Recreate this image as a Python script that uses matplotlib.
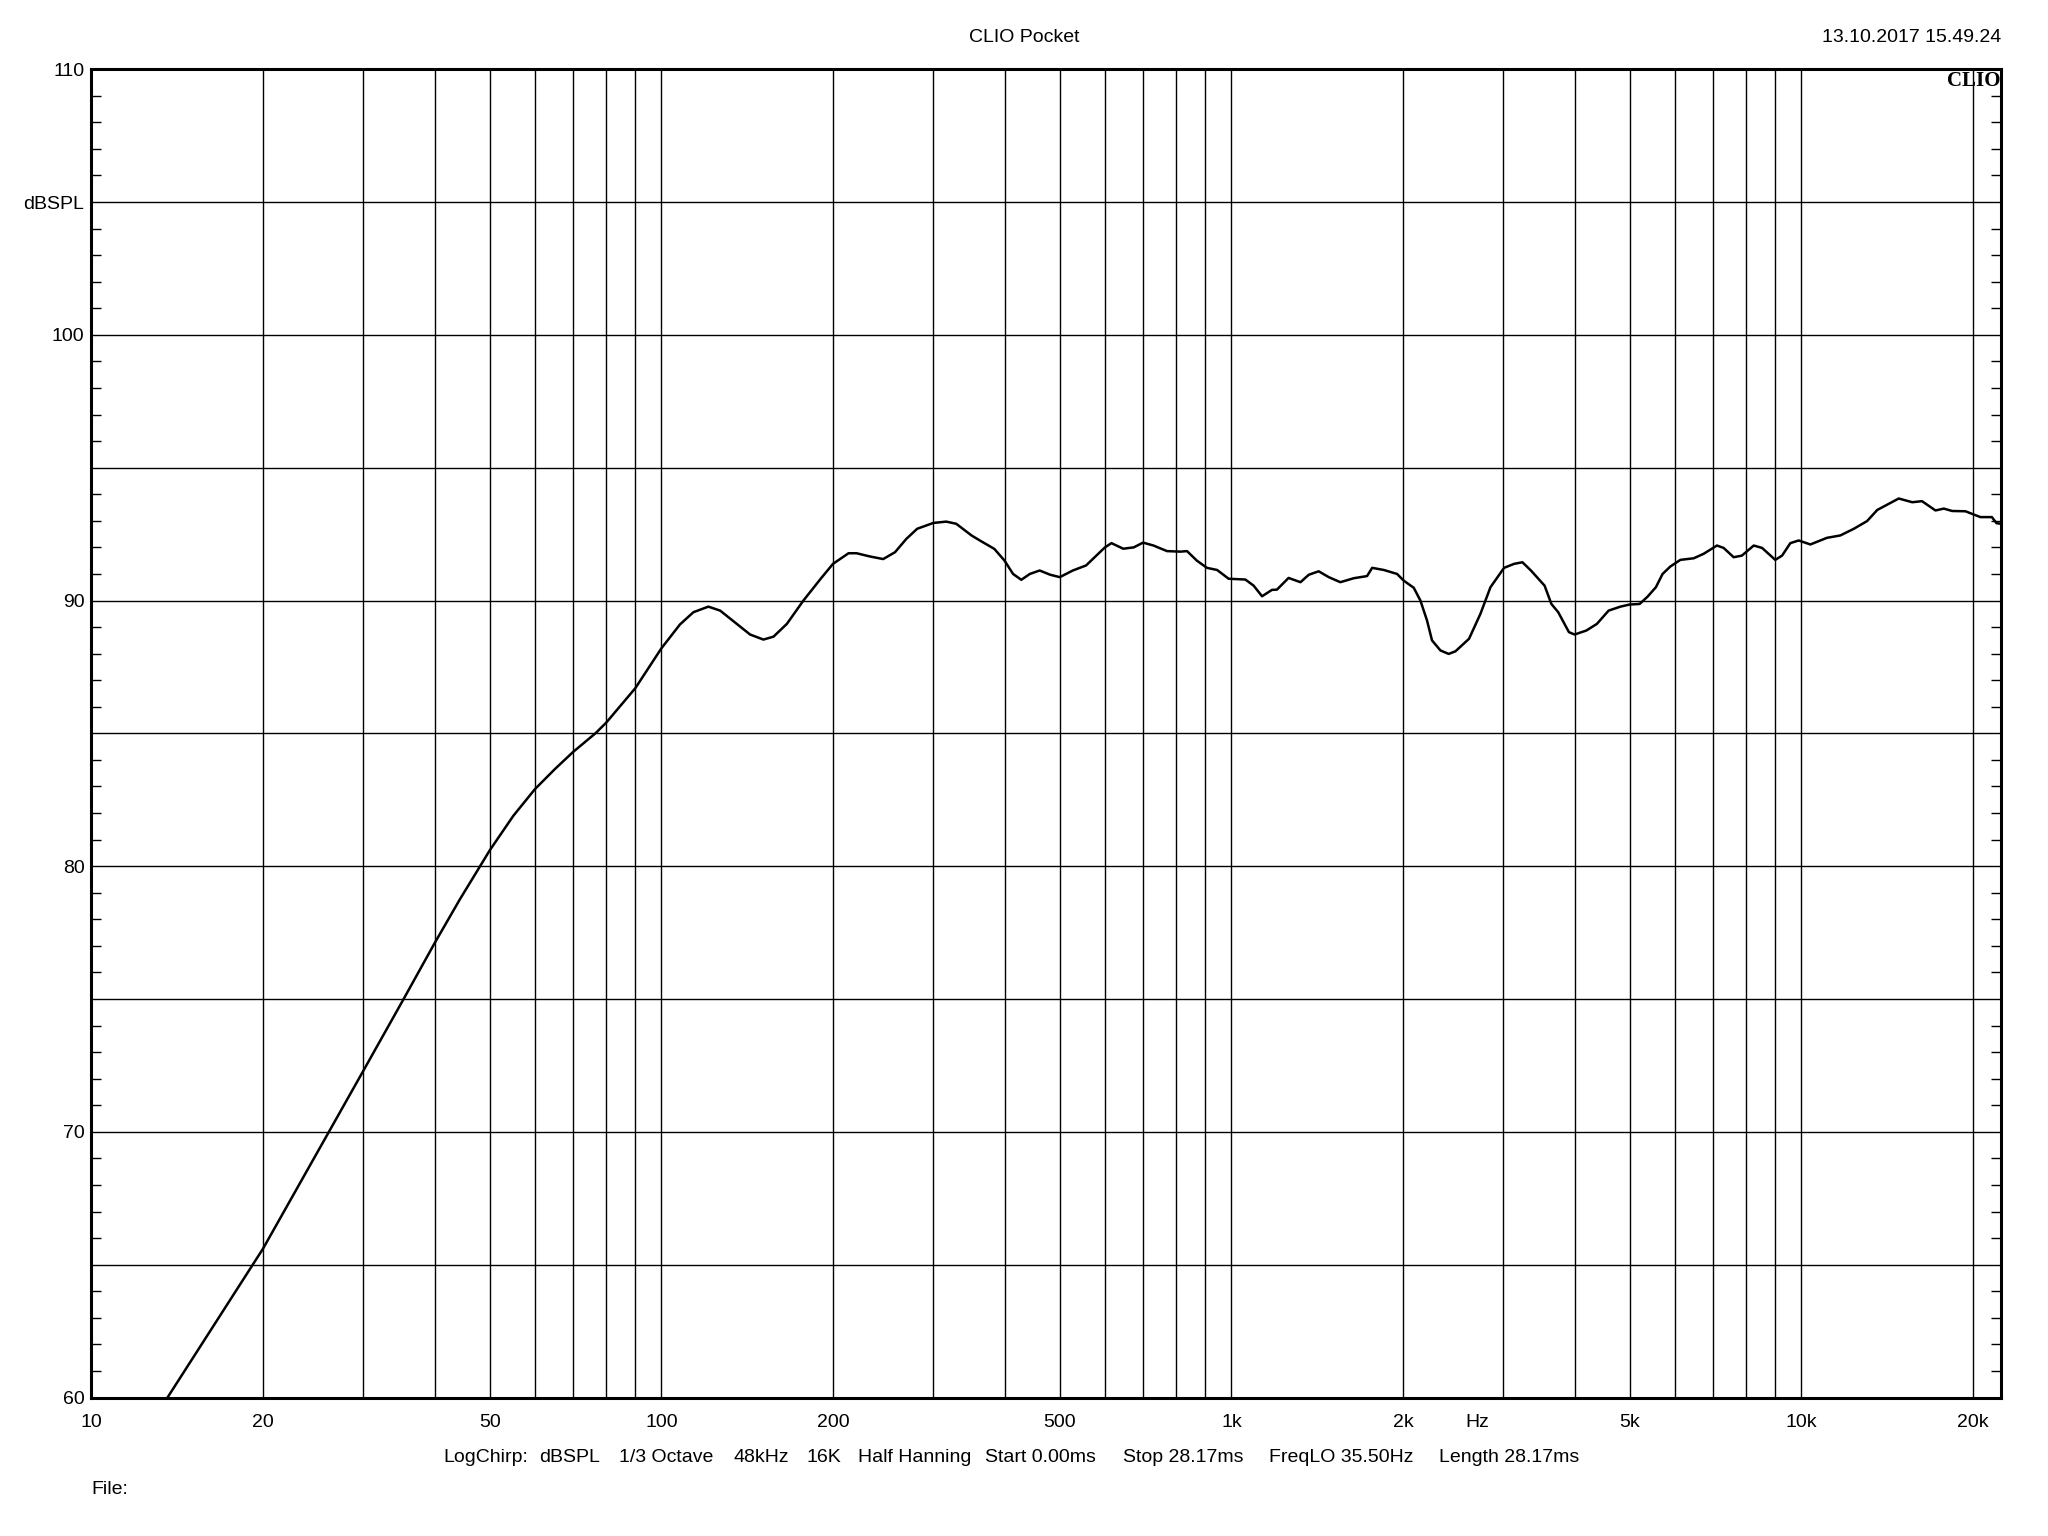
import matplotlib
matplotlib.use('Agg')
import matplotlib.pyplot as plt
from matplotlib.ticker import FixedLocator, MultipleLocator, NullLocator

plt.rcParams['font.family'] = ['Liberation Sans', 'DejaVu Sans']

# frequency response (Hz, dBSPL)
freq_hz = [
    13.6, 20, 30, 35.3, 40, 44.3, 50, 55, 60, 65, 70, 76.6,
    80, 90, 100, 107.8, 113.8, 120.9, 126.8, 135.6, 143.1, 151,
    157.3, 166, 177.5, 190, 200, 213, 220, 232, 245, 257,
    269, 281, 300, 316, 329, 350, 362, 384, 400, 414,
    428, 443, 461, 481, 500, 527, 556, 600, 616, 646,
    674, 700, 730, 771, 814, 836, 870, 906, 944, 989,
    1058, 1094, 1132, 1178, 1202, 1260, 1322, 1367, 1423, 1482,
    1553, 1640, 1730, 1766, 1851, 1953, 2006, 2089, 2146, 2204,
    2249, 2327, 2406, 2473, 2612, 2735, 2848, 3009, 3133, 3241,
    3354, 3544, 3643, 3745, 3910, 4000, 4195, 4378, 4590, 4815,
    4999, 5203, 5375, 5556, 5708, 5890, 6134, 6474, 6740, 7110,
    7305, 7607, 7863, 8250, 8532, 9000, 9250, 9565, 9893, 10370,
    11090, 11706, 12360, 13040, 13590, 14240, 14820, 15650, 16280, 17190,
    17780, 18390, 19400, 20610, 21590, 22000, 22400,
]
spl_db = [
    60.0, 65.6, 72.3, 75.0, 77.1, 78.75, 80.6, 81.9, 82.9, 83.65, 84.3, 85.0,
    85.4, 86.7, 88.2, 89.1, 89.56, 89.77, 89.62, 89.12, 88.72, 88.53,
    88.64, 89.12, 90.0, 90.8, 91.38, 91.78, 91.78, 91.66, 91.56, 91.82,
    92.32, 92.7, 92.92, 92.97, 92.89, 92.45, 92.26, 91.94, 91.5, 91.0,
    90.78, 91.0, 91.13, 90.97, 90.88, 91.13, 91.32, 92.0, 92.16, 91.95,
    92.0, 92.18, 92.07, 91.86, 91.84, 91.86, 91.5, 91.23, 91.15, 90.82,
    90.79, 90.56, 90.16, 90.4, 90.41, 90.85, 90.69, 90.97, 91.1, 90.88,
    90.69, 90.84, 90.92, 91.23, 91.15, 91.0, 90.75, 90.48, 90.0, 89.25,
    88.5, 88.12, 87.99, 88.09, 88.56, 89.5, 90.5, 91.23, 91.38, 91.44,
    91.13, 90.56, 89.87, 89.56, 88.81, 88.72, 88.87, 89.12, 89.62, 89.77,
    89.85, 89.87, 90.15, 90.5, 91.0, 91.28, 91.53, 91.59, 91.76, 92.07,
    91.98, 91.63, 91.69, 92.07, 91.98, 91.53, 91.69, 92.16, 92.26, 92.11,
    92.36, 92.45, 92.7, 92.99, 93.41, 93.64, 93.84, 93.7, 93.74, 93.39,
    93.46, 93.37, 93.36, 93.14, 93.14, 92.91, 92.89,
]

x_tick_pos = [10, 20, 50, 100, 200, 500, 1000, 2000, 2700, 5000, 10000, 20000]
x_tick_labels = ['10', '20', '50', '100', '200', '500', '1k', '2k', 'Hz', '5k', '10k', '20k']
y_tick_pos = [60, 65, 70, 75, 80, 85, 90, 95, 100, 105, 110]
y_tick_labels = ['60', '', '70', '', '80', '', '90', '', '100', 'dBSPL', '110']

info_items = ['LogChirp:', 'dBSPL', '1/3 Octave', '48kHz', '16K', 'Half Hanning',
              'Start 0.00ms', 'Stop 28.17ms', 'FreqLO 35.50Hz', 'Length 28.17ms']
info_x_px = [443, 539, 619, 733, 806, 858, 985, 1123, 1269, 1439]

W, H = 2048, 1536
fig = plt.figure(figsize=(W / 100, H / 100), dpi=100)
ax = fig.add_axes([91.4 / W, 1 - 1397.5 / H, (2001 - 91.4) / W, (1397.5 - 69.2) / H])

ax.set_xscale('log')
ax.set_xlim(10, 22400)
ax.set_ylim(60, 110)

# vertical grid at every 1-2-3...9 step of each decade
for dec in [10, 100, 1000, 10000]:
    for m in range(1, 10):
        f = m * dec
        if 10 < f < 22400:
            ax.axvline(f, color='black', lw=1.0, zorder=1)

ax.plot(freq_hz, spl_db, color='black', lw=1.8, zorder=3)

ax.xaxis.set_major_locator(FixedLocator(x_tick_pos))
ax.xaxis.set_minor_locator(NullLocator())
ax.set_xticklabels(x_tick_labels)
ax.set_yticks(y_tick_pos)
ax.set_yticklabels(y_tick_labels)
ax.yaxis.set_minor_locator(MultipleLocator(1))
ax.yaxis.grid(True, which='major', color='black', lw=1.0, zorder=1)

ax.tick_params(axis='x', which='major', length=0, pad=12, labelsize=14)
ax.tick_params(axis='y', which='major', length=0, pad=5, labelsize=14)
ax.tick_params(axis='y', which='minor', direction='in', length=7, width=1.0,
               left=True, right=True, color='black')

for s in ax.spines.values():
    s.set_linewidth(2.2)
    s.set_color('black')
    s.set_zorder(4)

fig.text(0.5, 1 - 37 / H, 'CLIO Pocket', ha='center', va='center', fontsize=14)
fig.text(2001 / W, 1 - 37 / H, '13.10.2017 15.49.24', ha='right', va='center', fontsize=14)
fig.text(2000 / W, 1 - 81 / H, 'CLIO', ha='right', va='center', fontsize=15,
         family='Liberation Serif', weight='bold')

for label, xp in zip(info_items, info_x_px):
    fig.text(xp / W, 1 - 1457 / H, label, ha='left', va='center', fontsize=14)
fig.text(91 / W, 1 - 1490 / H, 'File:', ha='left', va='center', fontsize=14)

fig.savefig('out.png', dpi=100, facecolor='white')
